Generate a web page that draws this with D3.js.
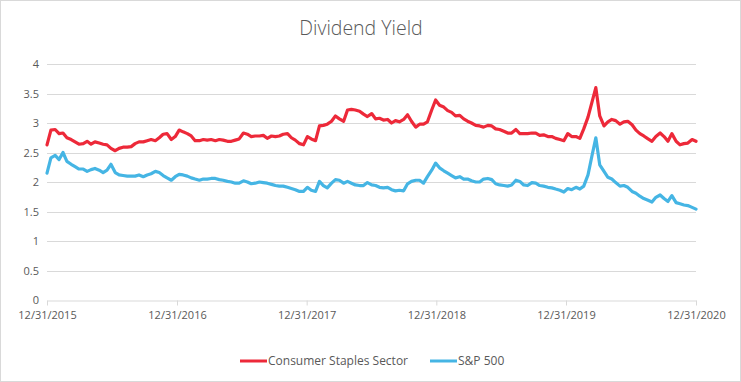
<!DOCTYPE html>
<html><head><meta charset="utf-8">
<script src="https://cdn.jsdelivr.net/npm/d3@7"></script>
<style>
html,body{margin:0;padding:0;background:#fff;}
svg{display:block;}
</style></head>
<body>
<svg id="c" width="741" height="382"></svg>
<script>
const title = "Dividend Yield";
const seriesNames = ["Consumer Staples Sector", "S&P 500"];
const startDate = "2015-12-31";
const endDate = "2020-12-31";
const xTickLabels = ["12/31/2015","12/31/2016","12/31/2017","12/31/2018","12/31/2019","12/31/2020"];
const yTicks = [0,0.5,1,1.5,2,2.5,3,3.5,4];

const staples = [
2.63,2.88,2.89,2.82,2.83,2.75,2.72,2.68,2.64,2.65,2.69,2.64,2.68,2.66,2.64,2.63,2.57,2.53,2.57,2.59,2.59,2.60,2.65,2.68,2.68,2.70,2.72,2.70,
2.75,2.81,2.82,2.72,2.77,2.88,2.85,2.82,2.78,2.70,2.70,2.72,2.71,2.72,2.70,2.72,2.71,2.69,2.69,2.71,2.73,2.83,2.81,2.77,2.78,2.78,2.79,
2.74,2.78,2.77,2.78,2.81,2.82,2.75,2.71,2.65,2.63,2.77,2.73,2.70,2.95,2.96,2.98,3.03,3.12,3.07,3.03,3.22,3.23,3.22,3.20,3.15,3.11,3.16,3.07,
3.08,3.05,3.06,3.00,3.04,3.02,3.06,3.14,3.03,2.93,2.98,2.98,3.02,3.22,3.39,3.30,3.27,3.21,3.18,3.12,3.13,3.07,3.03,3.00,2.96,2.95,2.93,
2.96,2.95,2.90,2.89,2.86,2.83,2.83,2.89,2.82,2.82,2.82,2.83,2.83,2.79,2.80,2.77,2.77,2.74,2.72,2.70,2.82,2.77,2.77,2.74,2.90,3.10,3.35,3.60,
3.12,2.95,3.02,3.06,3.04,2.98,3.02,3.03,2.97,2.88,2.82,2.78,2.73,2.69,2.77,2.83,2.77,2.69,2.82,2.69,2.63,2.65,2.66,2.72,2.69
];
const sp500 = [
2.15,2.41,2.45,2.38,2.50,2.35,2.30,2.26,2.22,2.22,2.18,2.21,2.23,2.20,2.16,2.20,2.30,2.16,2.12,2.11,2.10,2.10,2.10,2.12,2.09,2.12,2.14,2.18,
2.16,2.11,2.07,2.03,2.09,2.13,2.12,2.10,2.07,2.05,2.03,2.05,2.05,2.06,2.06,2.04,2.03,2.01,2.00,1.98,1.98,2.02,2.00,1.97,1.98,2.00,1.99,
1.98,1.96,1.94,1.93,1.93,1.91,1.89,1.87,1.84,1.84,1.91,1.86,1.84,2.01,1.94,1.90,1.98,2.04,2.03,1.98,2.01,1.98,1.95,1.94,1.94,1.99,1.95,1.94,
1.91,1.90,1.91,1.87,1.85,1.86,1.85,1.97,2.01,2.03,2.03,1.98,2.09,2.20,2.32,2.24,2.19,2.15,2.11,2.07,2.09,2.05,2.05,2.02,2.00,2.00,2.05,
2.06,2.04,1.97,1.95,1.94,1.93,1.95,2.03,2.01,1.95,1.94,1.99,1.98,1.94,1.93,1.91,1.90,1.88,1.86,1.83,1.89,1.87,1.91,1.88,1.93,2.12,2.44,2.75,
2.29,2.18,2.08,2.05,1.99,1.93,1.94,1.91,1.84,1.81,1.76,1.72,1.69,1.66,1.74,1.78,1.72,1.67,1.77,1.65,1.63,1.61,1.60,1.57,1.54
];
const colors = ["#ED2939", "#45B5E4"];

const svg = d3.select("#c");
const W = 741, H = 382;
const M = {left:47, right:45, top:64, bottom:82};

svg.append("rect").attr("x",0.5).attr("y",0.5).attr("width",W-1).attr("height",H-1)
  .attr("fill","#fff").attr("stroke","#d9d9d9");

const parse = d3.timeParse("%Y-%m-%d");
const t0 = parse(startDate), t1 = parse(endDate);
const nDays = d3.timeDay.count(t0, t1);
const n = staples.length;
const dates = d3.range(n).map(k => d3.timeDay.offset(t0, Math.round(k * nDays / (n - 1))));

const x = d3.scaleTime().domain([t0, t1]).range([M.left, W - M.right]);
const y = d3.scaleLinear().domain([0, 4]).range([H - M.bottom, M.top]);

const font = "'Open Sans', Lato, sans-serif";

// title
svg.append("text").attr("x", 361).attr("y", 35).attr("text-anchor","middle")
  .attr("font-family", font).attr("font-weight", 300).attr("font-size", 19.5)
  .attr("fill","#595959").text(title);

// gridlines
svg.append("g").selectAll("line").data(yTicks.filter(d => d > 0)).join("line")
  .attr("x1", M.left).attr("x2", W - M.right)
  .attr("y1", d => Math.round(y(d)) + 0.5).attr("y2", d => Math.round(y(d)) + 0.5)
  .attr("stroke", "#d9d9d9").attr("stroke-width", 1);

// y axis
const yAxis = svg.append("g").attr("transform", `translate(${M.left - 8},0)`)
  .call(d3.axisLeft(y).tickValues(yTicks).tickFormat(d3.format("~g")).tickSize(0).tickPadding(0));
yAxis.select(".domain").remove();
yAxis.selectAll("text").attr("font-family", font).attr("font-size", 11).attr("fill", "#595959");

// x axis
const xDates = xTickLabels.map(d3.timeParse("%m/%d/%Y"));
const xAxis = svg.append("g").attr("transform", `translate(0,${Math.round(y(0)) + 0.5})`)
  .call(d3.axisBottom(x).tickValues(xDates).tickFormat((d, i) => xTickLabels[i]).tickSize(5).tickSizeOuter(0).tickPadding(6));
xAxis.select(".domain").attr("stroke", "#d9d9d9");
xAxis.selectAll(".tick line").attr("stroke", "#d9d9d9");
xAxis.selectAll("text").attr("font-family", font).attr("font-size", 11).attr("fill", "#595959");

// lines
const line = d3.line().x((d, i) => x(dates[i])).y(d => y(d)).curve(d3.curveLinear);
[staples, sp500].forEach((s, i) => {
  svg.append("path").datum(s).attr("d", line).attr("fill", "none")
    .attr("stroke", colors[i]).attr("stroke-width", 3.2).attr("stroke-linejoin", "round").attr("stroke-linecap", "round");
});

// legend
const legendX = [240, 430];
seriesNames.forEach((name, i) => {
  const g = svg.append("g").attr("transform", `translate(${legendX[i]},361)`);
  g.append("line").attr("x1", 0).attr("x2", 27).attr("y1", 0).attr("y2", 0)
    .attr("stroke", colors[i]).attr("stroke-width", 3);
  g.append("text").attr("x", 28).attr("y", 4).attr("font-family", font).attr("font-size", 12)
    .attr("fill", "#595959").text(name);
});
</script>
</body></html>
